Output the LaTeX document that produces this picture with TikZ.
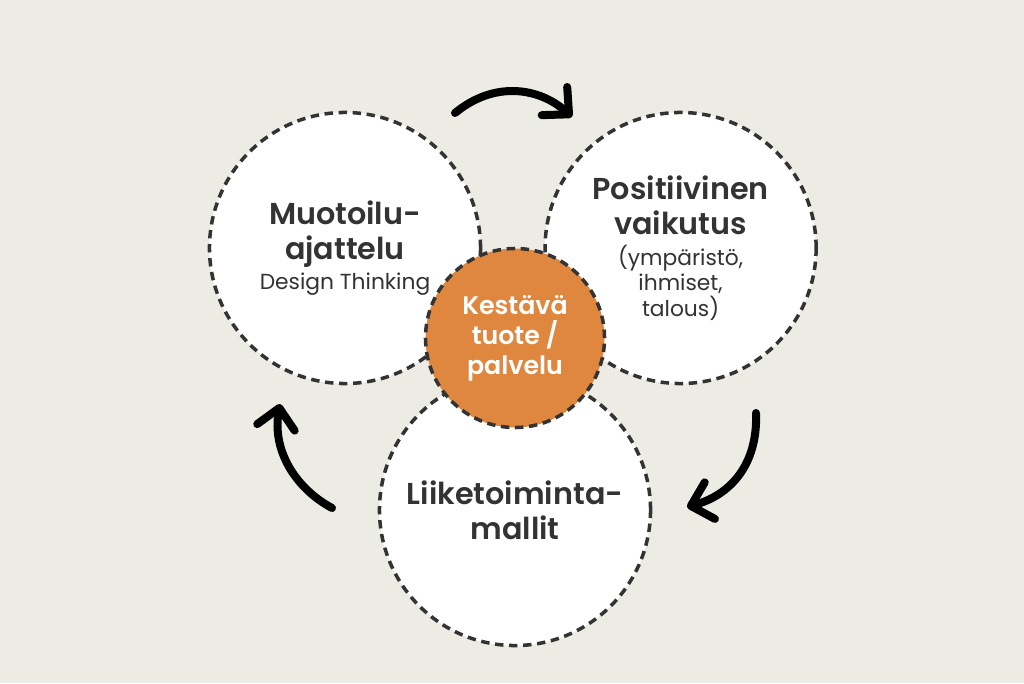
\documentclass[tikz,border=0pt]{standalone}
\usepackage{fontspec}
\setmainfont{Poppins}[BoldFont={Poppins SemiBold}]
\usetikzlibrary{positioning,arrows.meta}
\definecolor{paper}{HTML}{EDECE4}
\definecolor{ink}{HTML}{333333}
\definecolor{rust}{HTML}{E0873F}
\newcommand{\headline}{\fontsize{21.5}{25}\selectfont\bfseries}
\newcommand{\smalline}{\fontsize{15.5}{17}\selectfont\mdseries}
\newcommand{\coreline}{\fontsize{18}{21.3}\selectfont\bfseries}

\begin{document}
\begin{tikzpicture}[x=0.025cm,y=-0.025cm,
	bubble/.style={circle,draw=ink,fill=white,line width=2.5pt,dash pattern=on 6pt off 4pt,minimum size=6.775cm,inner sep=0pt,align=center,text=ink,font=\headline},
	core/.style={bubble,fill=rust,minimum size=4.475cm,text=white,font=\coreline},
	turn/.style={line width=5.7pt,line cap=round,-{Straight Barb[length=14pt,width=27pt,round]}}]
	\useasboundingbox[fill=paper] (0,0) rectangle (1024,683);
	\node (1)[bubble] at (345,248){Muotoilu-\\ajattelu\\[-4pt]\smalline Design Thinking};
	\node (2)[bubble,right=1.525cm of 1]{Positiivinen\\vaikutus\\[-3pt]\smalline (ympäristö,\\[-7pt]\smalline ihmiset,\\[-7pt]\smalline talous)};
	\node (3)[bubble] at (515,510){Liiketoiminta-\\mallit};
	\node (0)[core] at (515,338){Kestävä\\tuote /\\palvelu};
	% kierto
	\coordinate (t0) at (455,113);
	\coordinate (t1) at (572,117);
	\coordinate (r0) at (756,413);
	\coordinate (r1) at (687,507);
	\coordinate (l0) at (332,508);
	\coordinate (l1) at (280,404);
	\draw[turn] (t0) .. controls (495,80) and (540,88) .. (t1);
	\draw[turn] (r0) .. controls (758,465) and (730,495) .. (r1);
	\draw[turn] (l0) .. controls (295,488) and (272,450) .. (l1);
\end{tikzpicture}
\end{document}
